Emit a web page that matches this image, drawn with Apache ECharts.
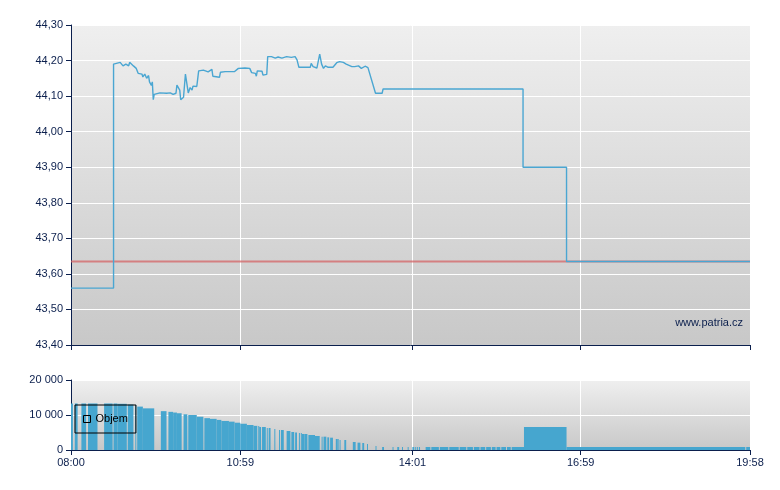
<!DOCTYPE html>
<html>
<head>
<meta charset="utf-8">
<script src="https://cdn.jsdelivr.net/npm/echarts@6/dist/echarts.min.js"></script>
<style>
html,body{margin:0;padding:0;background:#fff;}
#chart{width:780px;height:490px;}
</style>
</head>
<body>
<div id="chart"></div>
<script>
// ---- data ----
const xTickLabels = ['08:00', '10:59', '14:01', '16:59', '19:58'];
const priceMin = [0, 45, 45, 46, 52, 55, 58, 61, 62, 66, 69, 71, 75, 76, 78, 80, 82, 83, 85, 86, 87, 88, 94, 101, 105, 108, 111, 112, 115, 116, 119, 121, 124, 126, 128, 129, 133, 135, 140, 145, 149, 150, 152, 157, 158, 163, 165, 173, 177, 184, 186, 189, 191, 195, 196, 197, 202, 203, 205, 207, 208, 212, 216, 219, 223, 228, 233, 237, 239, 241, 253, 254, 256, 258, 260, 261, 263, 265, 267, 269, 272, 277, 281, 284, 288, 291, 297, 299, 300, 304, 307, 311, 314, 322, 329, 330, 478, 478, 524, 524, 718];
const priceVal = [43.56, 43.56, 44.19, 44.195, 44.195, 44.185, 44.19, 44.185, 44.195, 44.185, 44.178, 44.164, 44.162, 44.154, 44.162, 44.15, 44.158, 44.14, 44.13, 44.14, 44.09, 44.105, 44.109, 44.108, 44.109, 44.105, 44.108, 44.131, 44.117, 44.09, 44.097, 44.162, 44.109, 44.124, 44.117, 44.128, 44.127, 44.171, 44.173, 44.168, 44.175, 44.156, 44.153, 44.153, 44.167, 44.169, 44.166, 44.169, 44.178, 44.179, 44.174, 44.178, 44.166, 44.164, 44.156, 44.171, 44.17, 44.159, 44.154, 44.161, 44.211, 44.211, 44.207, 44.21, 44.207, 44.211, 44.209, 44.211, 44.202, 44.181, 44.181, 44.192, 44.183, 44.188, 44.179, 44.179, 44.218, 44.19, 44.178, 44.185, 44.181, 44.181, 44.194, 44.197, 44.195, 44.19, 44.183, 44.178, 44.183, 44.185, 44.178, 44.184, 44.18, 44.108, 44.108, 44.12, 44.12, 43.90, 43.90, 43.635, 43.635];
const refPrice = 43.635;
const volStart = [0, 4, 11, 18, 35, 45, 49, 60, 68, 70, 76, 95, 103, 108, 112, 119, 124, 133, 141, 147, 154, 159, 167, 173, 179, 186, 193, 198, 199, 202, 207, 209, 215, 220, 222, 228, 233, 237, 241, 243, 244, 247, 251, 258, 265, 267, 271, 274, 280, 282, 284, 289, 298, 303, 308, 313, 322, 329, 340, 345, 350, 356, 361, 364, 366, 368, 375, 381, 390, 400, 411, 419, 426, 433, 439, 445, 450, 455, 461, 466, 479, 524, 714];
const volEnd = [2, 7, 16, 28, 44, 49, 59, 66, 69, 76, 88, 101, 108, 112, 117, 123, 133, 140, 147, 154, 159, 167, 173, 179, 186, 193, 197, 199, 201, 206, 208, 211, 216, 221, 225, 232, 236, 239, 242, 244, 247, 250, 258, 263, 266, 270, 273, 277, 282, 283, 285, 291, 301, 306, 310, 314, 323, 331, 341, 347, 351, 357, 363, 365, 367, 369, 380, 389, 399, 410, 418, 425, 432, 438, 444, 449, 454, 460, 465, 479, 524, 713, 718];
const volValue = [13300, 13300, 13300, 13300, 13300, 13300, 13200, 13000, 12900, 12400, 11900, 11100, 10900, 10700, 10500, 10200, 10000, 9500, 9100, 8900, 8600, 8300, 8100, 7800, 7500, 7150, 6900, 6860, 6570, 6570, 6290, 6290, 6000, 5710, 5710, 5430, 5140, 5000, 4860, 4860, 4570, 4570, 4290, 4000, 3810, 3810, 3620, 3520, 3140, 3140, 2860, 2860, 2290, 2100, 2000, 1710, 1140, 860, 860, 860, 860, 860, 860, 860, 860, 860, 860, 860, 860, 860, 860, 860, 860, 860, 860, 860, 860, 860, 860, 860, 6570, 860, 860];

// ---- helpers ----
const toMin = s => { const p = s.split(':'); return (+p[0] - 8) * 60 + (+p[1]); };
const xTickMin = xTickLabels.map(toMin);
const labelOf = {};
xTickLabels.forEach((l, i) => { labelOf[xTickMin[i]] = l; });
const navy = '#0b1f4d';
const font = "'Liberation Sans', Arial, sans-serif";
const bg = {type: 'linear', x: 0, y: 0, x2: 0, y2: 1, colorStops: [{offset: 0, color: '#efefef'}, {offset: 1, color: '#c8c8c8'}]};

const priceData = priceMin.map((m, i) => [m, priceVal[i]]);
const refData = [[xTickMin[0], refPrice], [xTickMin[xTickMin.length - 1], refPrice]];
const volData = volStart.map((s, i) => [s, volEnd[i], volValue[i]]);

const chart = echarts.init(document.getElementById('chart'));
const xMin = xTickMin[0], xMax = xTickMin[xTickMin.length - 1];

chart.setOption({
  animation: false,
  grid: [
    {left: 71, top: 25, width: 679, height: 320, show: true, backgroundColor: bg, borderWidth: 0},
    {left: 71, top: 380, width: 679, height: 70, show: true, backgroundColor: bg, borderWidth: 0}
  ],
  legend: {
    data: [{name: 'Objem', icon: 'rect'}],
    left: 75, top: 405,
    padding: [7, 8, 7, 8],
    itemWidth: 7, itemHeight: 7, itemGap: 5,
    borderColor: '#000', borderWidth: 1,
    backgroundColor: 'rgba(0,0,0,0)',
    itemStyle: {color: 'rgba(0,0,0,0)', borderColor: '#000', borderWidth: 1},
    textStyle: {fontFamily: font, fontSize: 11, color: '#000', lineHeight: 14, padding: [0, 0, 0, 0]},
    selectedMode: false
  },
  xAxis: [
    {
      type: 'value', gridIndex: 0, min: xMin, max: xMax,
      axisLine: {show: true, lineStyle: {color: navy, width: 1}},
      axisTick: {show: true, inside: false, length: 5, lineStyle: {color: navy}, customValues: xTickMin},
      axisLabel: {show: false, customValues: xTickMin},
      splitLine: {show: true, lineStyle: {color: '#ffffff', width: 1}}
    },
    {
      type: 'value', gridIndex: 1, min: xMin, max: xMax,
      axisLine: {show: true, lineStyle: {color: navy, width: 1}},
      axisTick: {show: true, inside: false, length: 5, lineStyle: {color: navy}, customValues: xTickMin},
      axisLabel: {show: true, customValues: xTickMin, color: navy, fontFamily: font, fontSize: 11, margin: 7,
        formatter: v => labelOf[v] !== undefined ? labelOf[v] : ''},
      splitLine: {show: true, lineStyle: {color: '#ffffff', width: 1}}
    }
  ],
  yAxis: [
    {
      type: 'value', gridIndex: 0, min: 43.4, max: 44.3, interval: 0.1,
      axisLine: {show: true, lineStyle: {color: navy, width: 1}},
      axisTick: {show: true, inside: false, length: 5, lineStyle: {color: navy}},
      axisLabel: {color: navy, fontFamily: font, fontSize: 11, margin: 8,
        formatter: v => v.toFixed(2).replace('.', ',')},
      splitLine: {show: true, lineStyle: {color: '#ffffff', width: 1}}
    },
    {
      type: 'value', gridIndex: 1, min: 0, max: 20000, interval: 10000,
      axisLine: {show: true, lineStyle: {color: navy, width: 1}},
      axisTick: {show: true, inside: false, length: 5, lineStyle: {color: navy}},
      axisLabel: {color: navy, fontFamily: font, fontSize: 11, margin: 8,
        formatter: v => String(v).replace(/\B(?=(\d{3})+(?!\d))/g, ' ')},
      splitLine: {show: true, lineStyle: {color: '#ffffff', width: 1}}
    }
  ],
  series: [
    {
      name: 'Ref', type: 'line', xAxisIndex: 0, yAxisIndex: 0,
      data: refData, symbol: 'none',
      lineStyle: {color: '#d46466', width: 2, opacity: 0.75},
      z: 2
    },
    {
      name: 'Cena', type: 'line', xAxisIndex: 0, yAxisIndex: 0,
      data: priceData, symbol: 'none',
      lineStyle: {color: '#4aa6d2', width: 1.4, opacity: 1},
      z: 3
    },
    {
      name: 'Objem', type: 'custom', xAxisIndex: 1, yAxisIndex: 1,
      data: volData,
      encode: {x: [0, 1], y: 2},
      itemStyle: {color: '#46a6cf'},
      renderItem: function (params, api) {
        const s = api.coord([api.value(0), api.value(2)]);
        const e = api.coord([api.value(1), 0]);
        return {
          type: 'rect',
          shape: {x: s[0], y: s[1], width: Math.max(1, e[0] - s[0]), height: e[1] - s[1]},
          style: {fill: '#46a6cf'}
        };
      },
      z: 2
    }
  ],
  graphic: [
    {type: 'text', right: 37, top: 317, z: 10,
     style: {text: 'www.patria.cz', fill: navy, font: "11px 'Liberation Sans', Arial, sans-serif"}}
  ]
});
</script>
</body>
</html>
